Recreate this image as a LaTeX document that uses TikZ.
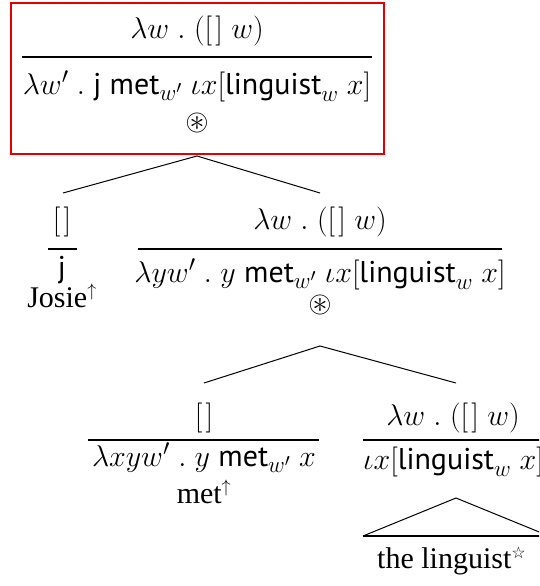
\RequirePackage{fix-cm}
\documentclass[tikz,border=0pt]{standalone}
\usepackage{amsmath,amssymb}
\usepackage{fontspec}
\setmainfont{Liberation Serif}
\setsansfont{PT Sans}
\newfontfamily\symfont{DejaVu Sans}
\DeclareMathSizes{30}{30}{23}{18}
\newcommand{\sv}[1]{\textsf{#1}}
\newcommand{\eb}{[\mkern2mu]}
\newcommand{\up}{$^{\scriptscriptstyle\uparrow}$}
\begin{document}
\begin{tikzpicture}[x=1pt,y=-1pt,
  lbl/.style={inner sep=0pt, font=\fontsize{30}{34}\selectfont},
  bar/.style={line width=1.3pt},
  edge/.style={line width=1pt},
  redbox/.style={draw=red!90!black, line width=1.3pt}]
\useasboundingbox (0,0) rectangle (539,586);
\clip (0,0) rectangle (539,586);
% top box
\draw[redbox] (11,3) rectangle (384,154);
\node[lbl] (t1) at (197,31) {$\lambda w\;.\;(\eb\;w)$};
\coordinate (t1l) at (22,57); \coordinate (t1r) at (372,57);
\draw[bar] (t1l) -- (t1r);
\node[lbl] (t2) at (197,86) {$\lambda w'\;.\;\sv{j}\;\sv{met}_{w'}\;\iota x[\sv{linguist}_w\;x]$};
\node[lbl] (t3) at (197,123) {$\circledast$};
\coordinate (a1) at (197,156);
\coordinate (e1l) at (63,193);
\coordinate (e1r) at (320,193);
\draw[edge] (e1l) -- (a1) -- (e1r);
% left child
\node[lbl] (l1) at (62,222) {$\eb$};
\coordinate (l1a) at (48,249); \coordinate (l1b) at (77,249);
\draw[bar] (l1a) -- (l1b);
\node[lbl] (l2) at (62,270) {\sv{j}};
\node[lbl] (l3) at (62,296) {Josie\up};
% right child
\node[lbl] (r1) at (320,222) {$\lambda w\;.\;(\eb\;w)$};
\coordinate (r1a) at (138,249); \coordinate (r1b) at (502,249);
\draw[bar] (r1a) -- (r1b);
\node[lbl] (r2) at (320,274) {$\lambda yw'\;.\;y\;\sv{met}_{w'}\;\iota x[\sv{linguist}_w\;x]$};
\node[lbl] (r3) at (320,305) {$\circledast$};
\coordinate (a2) at (320,346);
\coordinate (e2l) at (204,383);
\coordinate (e2r) at (456,383);
\draw[edge] (e2l) -- (a2) -- (e2r);
% left grandchild
\node[lbl] (g1) at (204,418) {$\eb$};
\coordinate (g1a) at (88,440); \coordinate (g1b) at (319,440);
\draw[bar] (g1a) -- (g1b);
\node[lbl] (g2) at (204,458) {$\lambda xyw'\;.\;y\;\sv{met}_{w'}\;x$};
\node[lbl] (g3) at (204,492) {met\up};
% right grandchild
\node[lbl] (h1) at (453,418) {$\lambda w\;.\;(\eb\;w)$};
\coordinate (h1a) at (363,440); \coordinate (h1b) at (545,440);
\draw[bar] (h1a) -- (h1b);
\node[lbl, anchor=west] (h2) at (363,462) {$\iota x[\sv{linguist}_w\;x]$};
\coordinate (tp) at (456,498);
\coordinate (tl) at (363,536);
\coordinate (tr) at (549,536);
\draw[edge] (tl) -- (tp) -- (tr);
\draw[bar] (tl) -- (tr);
\node[lbl, anchor=west] (h3) at (377,561) {the linguist$^{\text{\symfont\fontsize{16}{16}\selectfont ☆}}$};
\end{tikzpicture}
\end{document}
